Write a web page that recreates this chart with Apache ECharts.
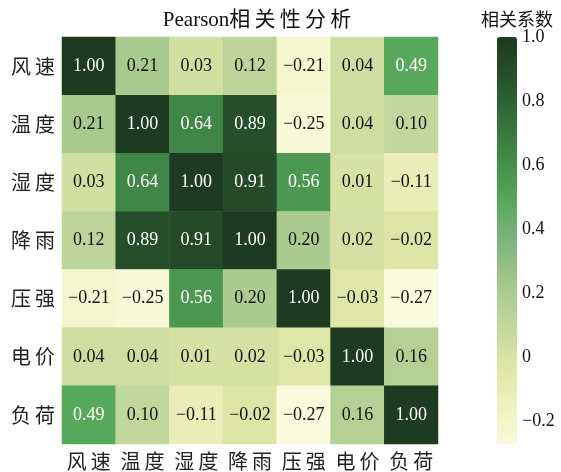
<!DOCTYPE html>
<html>
<head>
<meta charset="utf-8">
<style>
  html, body { margin: 0; padding: 0; background: #fff; }
  #chart { width: 561px; height: 472px; }
</style>
<script src="https://cdn.jsdelivr.net/npm/echarts@6/dist/echarts.min.js"></script>
</head>
<body>
<div id="chart"></div>
<script>
// Variables compared pairwise
const variables = ['风速', '温度', '湿度', '降雨', '压强', '电价', '负荷'];

// Pearson coefficients, one row per variable (same order as above)
const rowWindSpeed   = [1.00, 0.21, 0.03, 0.12, -0.21, 0.04, 0.49];
const rowTemperature = [0.21, 1.00, 0.64, 0.89, -0.25, 0.04, 0.10];
const rowHumidity    = [0.03, 0.64, 1.00, 0.91, 0.56, 0.01, -0.11];
const rowRainfall    = [0.12, 0.89, 0.91, 1.00, 0.20, 0.02, -0.02];
const rowPressure    = [-0.21, -0.25, 0.56, 0.20, 1.00, -0.03, -0.27];
const rowPrice       = [0.04, 0.04, 0.01, 0.02, -0.03, 1.00, 0.16];
const rowLoad        = [0.49, 0.10, -0.11, -0.02, -0.27, 0.16, 1.00];

// Colour bar range and its tick labels
const scaleMin = -0.27;
const scaleMax = 1.0;
const scaleTicks = [-0.2, 0, 0.2, 0.4, 0.6, 0.8, 1.0];

const rows = [rowWindSpeed, rowTemperature, rowHumidity, rowRainfall, rowPressure, rowPrice, rowLoad];

const serif = '"Liberation Serif", "Times New Roman", "Noto Sans CJK SC", serif';
const cjk = '"Noto Sans CJK SC", "Liberation Serif", serif';

const fmtNum = (v, d) => (v < 0 ? '\u2212' : '') + Math.abs(v).toFixed(d);
// Spread CJK characters a little, the way the labels are typeset
const spaced = s => s.split('').join('\u2009');

const cells = [];
rows.forEach((row, r) => {
  row.forEach((v, c) => {
    cells.push({
      value: [c, r, v],
      label: { color: v > 0.45 ? '#ffffff' : '#111111' }
    });
  });
});

const chart = echarts.init(document.getElementById('chart'), null, { renderer: 'canvas' });

chart.setOption({
  backgroundColor: '#ffffff',
  animation: false,
  title: [
    {
      text: 'Pearson' + spaced('相关性分析'),
      left: 252,
      top: 5,
      textAlign: 'center',
      textStyle: { fontFamily: serif, fontSize: 21, fontWeight: 'normal', color: '#111' }
    },
    {
      text: '相关系数',
      left: 512,
      top: 5,
      textAlign: 'center',
      textStyle: { fontFamily: cjk, fontSize: 18, fontWeight: 'normal', color: '#111' }
    }
  ],
  grid: [
    { left: 62, top: 37, width: 376, height: 407 },
    { left: 497, top: 37, width: 20, height: 407 }
  ],
  xAxis: [
    {
      type: 'category',
      gridIndex: 0,
      data: variables,
      position: 'bottom',
      axisLine: { show: false },
      axisTick: { show: false },
      splitLine: { show: false },
      axisLabel: {
        interval: 0,
        hideOverlap: false,
        fontFamily: cjk,
        fontSize: 20,
        color: '#222',
        margin: 7,
        formatter: spaced
      }
    },
    {
      type: 'value',
      gridIndex: 1,
      show: false
    }
  ],
  yAxis: [
    {
      type: 'category',
      gridIndex: 0,
      data: variables,
      inverse: true,
      axisLine: { show: false },
      axisTick: { show: false },
      splitLine: { show: false },
      axisLabel: { interval: 0, fontFamily: cjk, fontSize: 20, color: '#222', margin: 7, formatter: spaced }
    },
    {
      type: 'value',
      gridIndex: 1,
      min: scaleMin,
      max: scaleMax,
      position: 'right',
      axisLine: { show: false },
      axisTick: { show: false },
      splitLine: { show: false },
      axisLabel: {
        customValues: scaleTicks,
        margin: 5,
        fontFamily: serif,
        fontSize: 18,
        color: '#111',
        formatter: v => (Math.abs(v) < 1e-9 ? '0' : fmtNum(v, 1))
      }
    }
  ],
  visualMap: {
    type: 'continuous',
    min: scaleMin,
    max: scaleMax,
    calculable: false,
    orient: 'vertical',
    left: 497,
    top: 37,
    padding: 0,
    itemWidth: 20,
    itemHeight: 407,
    text: ['', ''],
    showLabel: false,
    seriesIndex: 0,
    inRange: {
      color: [
        '#fafadc', '#eef1bc', '#dce5a5', '#bfd69a', '#a2c78c', '#7cb47b',
        '#56a85c', '#438b49', '#326f39', '#26512b', '#1e3a20'
      ]
    }
  },
  series: [
    {
      type: 'heatmap',
      xAxisIndex: 0,
      yAxisIndex: 0,
      data: cells,
      label: {
        show: true,
        fontFamily: serif,
        fontSize: 18,
        formatter: p => fmtNum(p.value[2], 2)
      },
      itemStyle: { borderWidth: 0 },
      emphasis: { disabled: true }
    }
  ]
});
</script>
</body>
</html>
